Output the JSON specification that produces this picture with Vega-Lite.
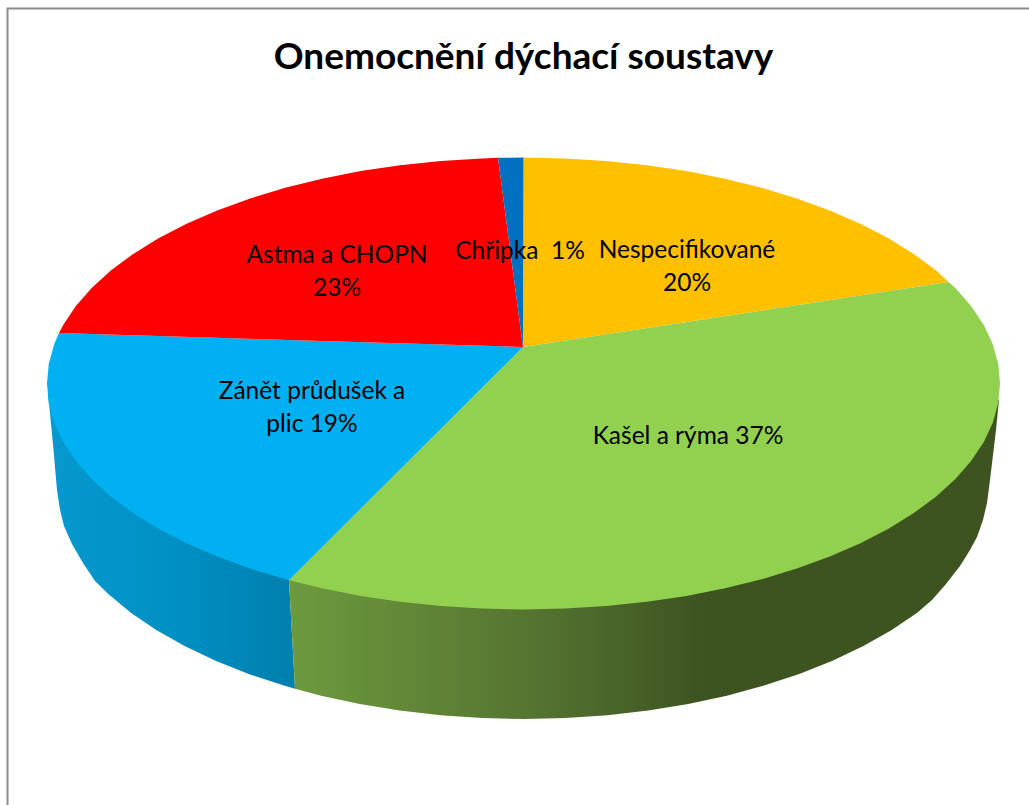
{"$schema":"https://vega.github.io/schema/vega-lite/v6.json","width":1029,"height":805,"padding":0,"autosize":{"type":"fit","contains":"padding"},"background":"white","config":{"view":{"stroke":null}},
"datasets":{
"outline":[
{"part":"Nespecifikované","n":0,"x":-0.5,"y":36.5},{"part":"Nespecifikované","n":1,"x":0,"y":226},{"part":"Nespecifikované","n":2,"x":41.5,"y":225.1},{"part":"Nespecifikované","n":3,"x":82.7,"y":222.6},{"part":"Nespecifikované","n":4,"x":123.3,"y":218.3},{"part":"Nespecifikované","n":5,"x":163,"y":212.4},{"part":"Nespecifikované","n":6,"x":201.4,"y":204.8},{"part":"Nespecifikované","n":7,"x":238.3,"y":195.7},{"part":"Nespecifikované","n":8,"x":273.3,"y":185.1},{"part":"Nespecifikované","n":9,"x":306.3,"y":173.1},{"part":"Nespecifikované","n":10,"x":336.9,"y":159.8},{"part":"Nespecifikované","n":11,"x":365,"y":145.3},{"part":"Nespecifikované","n":12,"x":390.3,"y":129.6},{"part":"Nespecifikované","n":13,"x":412.7,"y":113},{"part":"Nespecifikované","n":14,"x":425,"y":101.5},
{"part":"Kašel a rýma","n":0,"x":-0.5,"y":36.5},{"part":"Kašel a rýma","n":1,"x":425,"y":101.5},{"part":"Kašel a rýma","n":2,"x":431.9,"y":95.5},{"part":"Kašel a rýma","n":3,"x":447.8,"y":77.3},{"part":"Kašel a rýma","n":4,"x":460.3,"y":58.5},{"part":"Kašel a rýma","n":5,"x":469.3,"y":39.2},{"part":"Kašel a rýma","n":6,"x":474.7,"y":19.7},{"part":"Kašel a rýma","n":7,"x":476.5,"y":0},{"part":"Kašel a rýma","n":8,"x":474.7,"y":-19.7},{"part":"Kašel a rýma","n":9,"x":469.3,"y":-39.2},{"part":"Kašel a rýma","n":10,"x":460.3,"y":-58.5},{"part":"Kašel a rýma","n":11,"x":447.8,"y":-77.3},{"part":"Kašel a rýma","n":12,"x":431.9,"y":-95.5},{"part":"Kašel a rýma","n":13,"x":412.7,"y":-113},{"part":"Kašel a rýma","n":14,"x":390.3,"y":-129.6},{"part":"Kašel a rýma","n":15,"x":365,"y":-145.3},{"part":"Kašel a rýma","n":16,"x":336.9,"y":-159.8},{"part":"Kašel a rýma","n":17,"x":306.3,"y":-173.1},{"part":"Kašel a rýma","n":18,"x":273.3,"y":-185.1},{"part":"Kašel a rýma","n":19,"x":238.3,"y":-195.7},{"part":"Kašel a rýma","n":20,"x":201.4,"y":-204.8},{"part":"Kašel a rýma","n":21,"x":163,"y":-212.4},{"part":"Kašel a rýma","n":22,"x":123.3,"y":-218.3},{"part":"Kašel a rýma","n":23,"x":82.7,"y":-222.6},{"part":"Kašel a rýma","n":24,"x":41.5,"y":-225.1},{"part":"Kašel a rýma","n":25,"x":0,"y":-226},{"part":"Kašel a rýma","n":26,"x":-41.5,"y":-225.1},{"part":"Kašel a rýma","n":27,"x":-82.7,"y":-222.6},{"part":"Kašel a rýma","n":28,"x":-123.3,"y":-218.3},{"part":"Kašel a rýma","n":29,"x":-163,"y":-212.4},{"part":"Kašel a rýma","n":30,"x":-201.4,"y":-204.8},{"part":"Kašel a rýma","n":31,"x":-234.5,"y":-196.7},
{"part":"Zánět průdušek a plic","n":0,"x":-0.5,"y":36.5},{"part":"Zánět průdušek a plic","n":1,"x":-234.5,"y":-196.7},{"part":"Zánět průdušek a plic","n":2,"x":-273.3,"y":-185.1},{"part":"Zánět průdušek a plic","n":3,"x":-306.3,"y":-173.1},{"part":"Zánět průdušek a plic","n":4,"x":-336.9,"y":-159.8},{"part":"Zánět průdušek a plic","n":5,"x":-365,"y":-145.3},{"part":"Zánět průdušek a plic","n":6,"x":-390.3,"y":-129.6},{"part":"Zánět průdušek a plic","n":7,"x":-412.7,"y":-113},{"part":"Zánět průdušek a plic","n":8,"x":-431.9,"y":-95.5},{"part":"Zánět průdušek a plic","n":9,"x":-447.8,"y":-77.3},{"part":"Zánět průdušek a plic","n":10,"x":-460.3,"y":-58.5},{"part":"Zánět průdušek a plic","n":11,"x":-469.3,"y":-39.2},{"part":"Zánět průdušek a plic","n":12,"x":-474.7,"y":-19.7},{"part":"Zánět průdušek a plic","n":13,"x":-476.5,"y":0},{"part":"Zánět průdušek a plic","n":14,"x":-474.7,"y":19.7},{"part":"Zánět průdušek a plic","n":15,"x":-469.3,"y":39.2},{"part":"Zánět průdušek a plic","n":16,"x":-464.5,"y":50.5},
{"part":"Astma a CHOPN","n":0,"x":-0.5,"y":36.5},{"part":"Astma a CHOPN","n":1,"x":-464.5,"y":50.5},{"part":"Astma a CHOPN","n":2,"x":-460.3,"y":58.5},{"part":"Astma a CHOPN","n":3,"x":-447.8,"y":77.3},{"part":"Astma a CHOPN","n":4,"x":-431.9,"y":95.5},{"part":"Astma a CHOPN","n":5,"x":-412.7,"y":113},{"part":"Astma a CHOPN","n":6,"x":-390.3,"y":129.6},{"part":"Astma a CHOPN","n":7,"x":-365,"y":145.3},{"part":"Astma a CHOPN","n":8,"x":-336.9,"y":159.8},{"part":"Astma a CHOPN","n":9,"x":-306.3,"y":173.1},{"part":"Astma a CHOPN","n":10,"x":-273.3,"y":185.1},{"part":"Astma a CHOPN","n":11,"x":-238.3,"y":195.7},{"part":"Astma a CHOPN","n":12,"x":-201.4,"y":204.8},{"part":"Astma a CHOPN","n":13,"x":-163,"y":212.4},{"part":"Astma a CHOPN","n":14,"x":-123.3,"y":218.3},{"part":"Astma a CHOPN","n":15,"x":-82.7,"y":222.6},{"part":"Astma a CHOPN","n":16,"x":-41.5,"y":225.1},{"part":"Astma a CHOPN","n":17,"x":-25.5,"y":225.7},
{"part":"Chřipka","n":0,"x":-0.5,"y":36.5},{"part":"Chřipka","n":1,"x":-25.5,"y":225.7},{"part":"Chřipka","n":2,"x":0,"y":226}
],
"walls":[
{"part":"blue","n":0,"x":-475.5,"y":-11.5},{"part":"blue","n":1,"x":-473.5,"y":-29.5},{"part":"blue","n":2,"x":-470,"y":-66.5},{"part":"blue","n":3,"x":-466.5,"y":-106.5},{"part":"blue","n":4,"x":-463.5,"y":-126.5},{"part":"blue","n":5,"x":-459.5,"y":-142.5},{"part":"blue","n":6,"x":-451.5,"y":-160.5},{"part":"blue","n":7,"x":-440.5,"y":-179.5},{"part":"blue","n":8,"x":-428.5,"y":-197.5},{"part":"blue","n":9,"x":-415.2,"y":-210.5},{"part":"blue","n":10,"x":-392.7,"y":-229.3},{"part":"blue","n":11,"x":-367.2,"y":-246.5},{"part":"blue","n":12,"x":-338.9,"y":-262.6},{"part":"blue","n":13,"x":-308,"y":-277.2},{"part":"blue","n":14,"x":-274.8,"y":-290.5},{"part":"blue","n":15,"x":-239.5,"y":-302.1},{"part":"blue","n":16,"x":-228.5,"y":-305.2},{"part":"blue","n":17,"x":-234.5,"y":-196.7},{"part":"blue","n":18,"x":-300,"y":-100},
{"part":"green","n":0,"x":-234.5,"y":-196.7},{"part":"green","n":1,"x":-228.5,"y":-305.2},{"part":"green","n":2,"x":-202.4,"y":-312.2},{"part":"green","n":3,"x":-163.7,"y":-320.5},{"part":"green","n":4,"x":-123.7,"y":-327},{"part":"green","n":5,"x":-82.9,"y":-331.7},{"part":"green","n":6,"x":-41.3,"y":-334.6},{"part":"green","n":7,"x":0.5,"y":-335.5},{"part":"green","n":8,"x":42.3,"y":-334.6},{"part":"green","n":9,"x":83.9,"y":-331.7},{"part":"green","n":10,"x":124.7,"y":-327},{"part":"green","n":11,"x":164.7,"y":-320.5},{"part":"green","n":12,"x":203.4,"y":-312.2},{"part":"green","n":13,"x":240.5,"y":-302.1},{"part":"green","n":14,"x":275.8,"y":-290.5},{"part":"green","n":15,"x":309,"y":-277.2},{"part":"green","n":16,"x":339.9,"y":-262.6},{"part":"green","n":17,"x":368.2,"y":-246.5},{"part":"green","n":18,"x":393.7,"y":-229.3},{"part":"green","n":19,"x":408.5,"y":-216.5},{"part":"green","n":20,"x":422.5,"y":-200.5},{"part":"green","n":21,"x":436.5,"y":-182.5},{"part":"green","n":22,"x":446.5,"y":-166.5},{"part":"green","n":23,"x":453.5,"y":-153.5},{"part":"green","n":24,"x":459.5,"y":-136.5},{"part":"green","n":25,"x":463.5,"y":-119.5},{"part":"green","n":26,"x":466.5,"y":-96.5},{"part":"green","n":27,"x":469.5,"y":-71.5},{"part":"green","n":28,"x":472.5,"y":-46.5},{"part":"green","n":29,"x":475.5,"y":-16.5},{"part":"green","n":30,"x":300,"y":-50}
],
"frame":[{"n":0,"x":-516,"y":-421.5},{"n":1,"x":-516,"y":375},{"n":2,"x":505.5,"y":375}],
"labels":[
{"label":"Astma a CHOPN\n23%","x":-186.5,"y":127.5},
{"label":"Zánět průdušek a\nplic 19%","x":-211.5,"y":-8.5},
{"label":"Chřipka\u00a0\u00a01%","x":-3.5,"y":131.5},
{"label":"Nespecifikované\n20%","x":163.5,"y":133},
{"label":"Kašel a rýma 37%","x":164.5,"y":-53.5}
],
"heading":[{"label":"Onemocnění dýchací soustavy","x":0,"y":326}]
},
"encoding":{
"x":{"field":"x","type":"quantitative","axis":null,"scale":{"domain":[-523.5,505.5],"nice":false,"zero":false}},
"y":{"field":"y","type":"quantitative","axis":null,"scale":{"domain":[-421.5,383.5],"nice":false,"zero":false}}
},
"layer":[
{"data":{"name":"walls"},"transform":[{"filter":"datum.part==='blue'"}],"mark":{"type":"line","filled":true,"strokeWidth":0,"fill":{"gradient":"linear","x1":0,"x2":1,"y1":0,"y2":0,"stops":[{"offset":0,"color":"#0599cf"},{"offset":0.5,"color":"#0090c4"},{"offset":1,"color":"#007fad"}]}},"encoding":{"order":{"field":"n","type":"quantitative"}}},
{"data":{"name":"walls"},"transform":[{"filter":"datum.part==='green'"}],"mark":{"type":"line","filled":true,"strokeWidth":0,"fill":{"gradient":"linear","x1":0,"x2":1,"y1":0,"y2":0,"stops":[{"offset":0,"color":"#6d9a3e"},{"offset":0.35,"color":"#557330"},{"offset":0.58,"color":"#3d5421"},{"offset":1,"color":"#3d5421"}]}},"encoding":{"order":{"field":"n","type":"quantitative"}}},
{"data":{"name":"outline"},"mark":{"type":"line","filled":true,"strokeWidth":0},"encoding":{"order":{"field":"n","type":"quantitative"},"color":{"field":"part","type":"nominal","legend":null,"scale":{"domain":["Nespecifikované","Kašel a rýma","Zánět průdušek a plic","Astma a CHOPN","Chřipka"],"range":["#ffc000","#92d050","#00b0f0","#ff0000","#0070c0"]}}}},
{"data":{"name":"frame"},"mark":{"type":"line","stroke":"#8c8c8c","strokeWidth":2,"clip":true},"encoding":{"order":{"field":"n","type":"quantitative"}}},
{"data":{"name":"labels"},"mark":{"type":"text","font":"Lato","fontSize":24.5,"color":"#000000","lineBreak":"\n","lineHeight":33,"align":"center","baseline":"middle"},"encoding":{"text":{"field":"label"}}},
{"data":{"name":"heading"},"mark":{"type":"text","font":"Lato","fontSize":37,"fontWeight":"bold","color":"#000000","align":"center","baseline":"middle"},"encoding":{"text":{"field":"label"}}}
]}
